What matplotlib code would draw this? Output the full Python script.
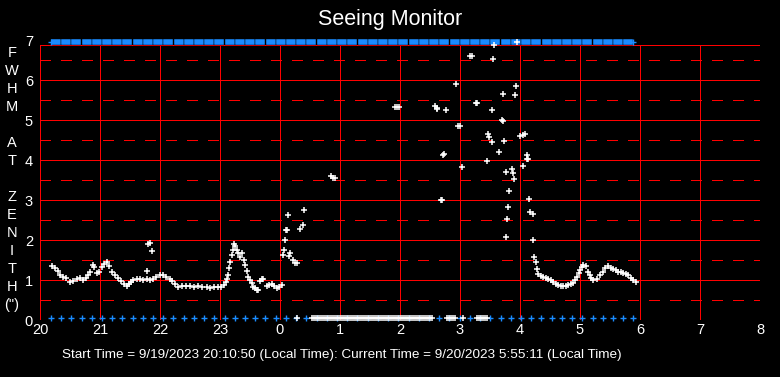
import numpy as np
import matplotlib.pyplot as plt

plt.rcParams['font.family'] = ['Liberation Sans', 'DejaVu Sans']
plt.rcParams['lines.scale_dashes'] = False

# time axis in minutes after 20:00, FWHM in arcsec
fwhm_min = [11.7, 15, 18, 20, 23, 26, 30, 33, 36.7, 40, 43.3, 46, 48, 50, 52.7, 54, 56.7, 59,
            61.7, 64, 66.7, 69, 71.7, 75, 78.3, 81, 84, 86.7, 89, 91, 93.3, 97, 100, 103,
            106.7, 106.7, 108.3, 109.5, 111.7, 110, 113.3, 116, 120, 123.3, 126, 130, 132,
            135, 138.3, 142, 146, 150, 154, 158, 162, 166.7, 170, 174, 178, 181, 184, 185.5,
            186.5, 187.7, 189, 190, 191.7, 192.5, 194, 195, 196.7, 198, 200, 202.3, 203.5,
            205, 206.5, 208.3, 210, 211.7, 213.3, 215, 217, 218.3, 220, 221.7, 223, 226.7,
            229, 231.7, 234, 236.7, 239, 241.7,
            243.3, 244, 245, 246, 247.3, 248.3, 249.3, 250, 252.7, 255, 256.7, 260, 262.7,
            264.3, 291, 293.3, 294.5,
            355.3, 356.5, 359.3, 395, 396.5, 397.3, 400.7, 401.5, 403.3, 404, 406, 416, 418.3,
            420, 421.7, 430, 431.7, 435.7, 436.5, 447.3, 448.3, 449.3, 451.7, 452.3, 453.3,
            454.3, 459, 461.7, 462.5, 463.3, 464.3, 465.7, 466.3, 466.7, 468.3, 469.3, 471.7,
            473.3, 474.3, 475.3, 476.3, 476.7, 480, 482.7, 485.3, 483.3, 487.3, 487.3, 488.3,
            489.3, 490, 492.7, 493.3, 494.3, 495.5, 496.5,
            498.3, 500.5, 503.3, 506, 508.3, 511, 513.3, 516, 518.3, 521, 523.3, 526, 528.3,
            531, 533.3, 535, 536.7, 538.5, 540, 541.7, 543.3, 546, 548.3, 549.5, 550.7, 553.3,
            556.7, 560, 562.5, 565, 568.3, 571, 573.3, 576, 578.3, 581, 583.3, 586, 588.3,
            591, 593.3, 596]
fwhm_val = [1.35, 1.30, 1.22, 1.12, 1.08, 1.05, 0.96, 0.98, 1.02, 1.05, 1.0, 1.05, 1.12, 1.21,
            1.37, 1.33, 1.17, 1.20, 1.33, 1.40, 1.44, 1.35, 1.21, 1.12, 1.05, 0.98, 0.90, 0.85,
            0.90, 0.95, 1.0, 1.02, 1.02, 1.0, 1.02, 1.22, 1.9, 1.92, 1.72, 1.0, 1.02, 1.08,
            1.12, 1.12, 1.08, 1.02, 0.98, 0.90, 0.82, 0.84, 0.85, 0.85, 0.83, 0.84, 0.82, 0.82,
            0.80, 0.82, 0.83, 0.83, 0.88, 0.95, 1.02, 1.12, 1.3, 1.46, 1.62, 1.75, 1.9, 1.85,
            1.75, 1.68, 1.58, 1.67, 1.5, 1.37, 1.22, 1.08, 1.0, 0.92, 0.83, 0.80, 0.76, 0.75,
            0.98, 1.02, 1.03, 0.85, 0.88, 0.9, 0.85, 0.8, 0.82, 0.87,
            1.62, 1.75, 2.0, 2.25, 2.24, 2.62, 1.6, 1.67, 1.5, 1.42, 1.42, 2.27, 2.37, 2.75,
            3.61, 3.54, 3.55,
            5.32, 5.33, 5.32, 5.35, 5.31, 5.27, 2.99, 3.0, 4.12, 4.14, 5.24, 5.9, 4.84, 4.84,
            3.82, 6.59, 6.59, 5.42, 5.42, 3.97, 4.64, 4.57, 4.44, 5.24, 6.53, 6.88, 4.2, 5.0,
            4.97, 5.64, 4.47, 3.69, 2.07, 2.52, 2.82, 3.22, 3.77, 3.67, 3.52, 5.62, 5.84, 6.95,
            4.6, 4.62, 4.65, 3.84, 4.12, 4.02, 4.02, 3.02, 2.71, 2.64, 2.0, 1.57, 1.44, 1.27,
            1.14, 1.1, 1.08, 1.05, 1.02, 0.99, 0.96, 0.9, 0.87, 0.86, 0.85, 0.86, 0.87, 0.9,
            0.92, 1.0, 1.08, 1.17, 1.25, 1.32, 1.37, 1.35, 1.21, 1.12, 1.04, 1.0, 1.02, 1.12,
            1.2, 1.29, 1.35, 1.31, 1.27, 1.24, 1.21, 1.19, 1.17, 1.14, 1.12, 1.06, 1.0, 0.96]

# failed measurements plotted on the zero line
zero_min = [256.7, 272, 274, 276, 278, 280, 282, 284, 286, 288, 290, 292, 294, 296, 298, 300,
            302, 304, 306, 308, 310, 312, 314, 316, 318, 320, 322, 324, 326, 328, 330, 332,
            334, 336, 338, 340, 342, 344, 346, 348, 350, 352, 354, 356, 358, 360, 362, 364,
            366, 368, 370, 372, 374, 376, 378, 380, 382, 384, 386, 388, 390, 392,
            407, 409, 411, 413, 415, 423, 437, 439, 441, 443, 445, 447]

# regular status samples (blue rows at top and bottom)
status_min = [10.8, 21.0, 31.2, 41.5, 51.7, 61.9, 72.1, 82.3, 92.6, 102.8, 113.0, 123.2,
              133.4, 143.7, 153.9, 164.1, 174.3, 184.5, 194.8, 205.0, 215.2, 225.4, 235.6,
              245.9, 256.1, 266.3, 276.5, 286.7, 297.0, 307.2, 317.4, 327.6, 337.8, 348.1,
              358.3, 368.5, 378.7, 388.9, 399.2, 409.4, 419.6, 429.8, 440.0, 450.3, 460.5,
              470.7, 480.9, 491.1, 501.4, 511.6, 521.8, 532.0, 542.2, 552.5, 562.7, 572.9,
              583.1, 593.3]

hour_labels = ['20', '21', '22', '23', '0', '1', '2', '3', '4', '5', '6', '7', '8']
ylabel_chars = ['F', 'W', 'H', 'M', '', 'A', 'T', '', 'Z', 'E', 'N', 'I', 'T', 'H', '(")']
info = 'Start Time = 9/19/2023 20:10:50 (Local Time): Current Time = 9/20/2023 5:55:11 (Local Time)'

W, H = 780, 377
fig = plt.figure(figsize=(W / 100, H / 100), dpi=100, facecolor='black')
ax = fig.add_axes([40 / W, 57 / H, 720 / W, 280 / H], facecolor='black')
ax.set_xlim(0, 12)
ax.set_ylim(0, 7)
for s in ax.spines.values():
    s.set_visible(False)

red = '#ff0000'
blue = '#1a8cff'
top = 6.875
hours = np.arange(len(hour_labels))
grid_kw = dict(color=red, lw=0.6, antialiased=False, snap=True, zorder=1)
ax.vlines(hours, 0, top, **grid_kw)
ax.hlines(np.arange(0, 7), 0, 12, **grid_kw)
ax.hlines([top], 0, 12, **grid_kw)
ax.hlines(np.arange(0.5, 7, 1), 0, 12, linestyles=[(0, (7.2, 7.2))], **grid_kw)

st = np.array(status_min) / 60
# top band
mid = (st[:-1] + st[1:]) / 2
rect = [(-1, -0.6), (1, -0.6), (1, 0.6), (-1, 0.6), (-1, -0.6)]
ax.plot(mid, np.full(len(mid), 6.94), ls='none', marker=rect, ms=7.2, mfc=blue,
        mec='black', mew=0.3, clip_on=False, zorder=3)
ax.plot([st[0], st[-1]], [6.94, 6.94], ls='none', marker='+', ms=5, mew=1, color=blue,
        clip_on=False, zorder=3)
# bottom row
ax.plot(st, np.full(len(st), 0.06), ls='none', marker='+', ms=5, mew=1, color=blue,
        antialiased=False, clip_on=False, zorder=3)

mk = dict(ls='none', marker='+', ms=5, mew=1.1, color='white', antialiased=False,
          clip_on=False, zorder=4)
ax.plot(np.array(zero_min) / 60, np.full(len(zero_min), 0.06), **mk)
ax.plot(np.array(fwhm_min) / 60, fwhm_val, **mk)

ax.set_xticks(hours)
ax.set_xticklabels(hour_labels)
ax.set_yticks(range(8))
ax.tick_params(length=0, colors='white', labelsize=10.5)
ax.tick_params(axis='x', pad=2)
ax.tick_params(axis='y', pad=5)

fig.text(390 / W, 1 - 20 / H, 'Seeing Monitor', ha='center', va='center', color='white',
         fontsize=15.5)
for i, c in enumerate(ylabel_chars):
    fig.text(12 / W, 1 - (53 + 18 * i) / H, c, ha='center', va='center', color='white',
             fontsize=10.5)
fig.text(62 / W, 1 - 355 / H, info, ha='left', va='center', color='white', fontsize=9.7)

fig.savefig('out.png', dpi=100, facecolor='black')
